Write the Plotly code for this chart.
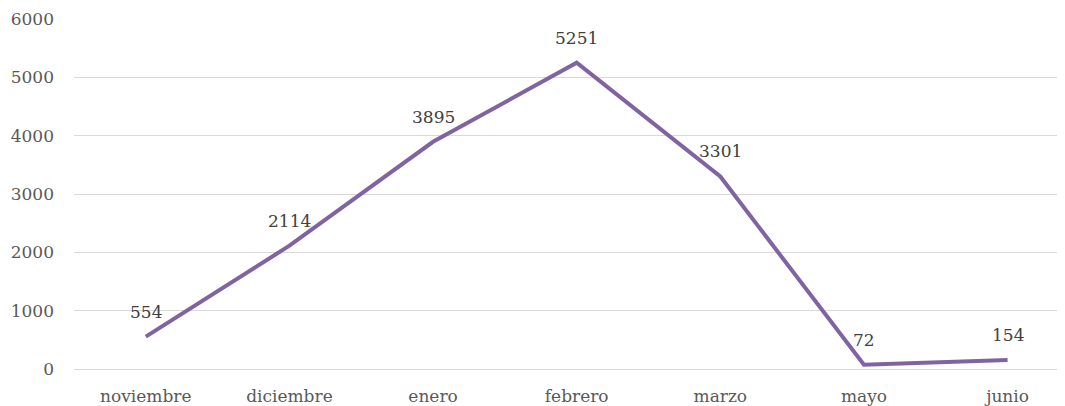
import plotly.graph_objects as go

months = ["noviembre", "diciembre", "enero", "febrero", "marzo", "mayo", "junio"]
values = [554, 2114, 3895, 5251, 3301, 72, 154]
y_ticks = [0, 1000, 2000, 3000, 4000, 5000, 6000]

serif = "DejaVu Serif, Liberation Serif, serif"

fig = go.Figure()
fig.add_trace(go.Scatter(
    x=months, y=values, mode="lines",
    line=dict(color="#8064a2", width=4),
    showlegend=False, hoverinfo="x+y",
))
for m, v in zip(months, values):
    fig.add_annotation(
        x=m, y=v, text=str(v), showarrow=False, yshift=25,
        font=dict(family=serif, size=17, color="#404040"),
    )
fig.update_layout(
    width=1057, height=398,
    margin=dict(l=66, r=0, t=11, b=28),
    paper_bgcolor="white", plot_bgcolor="white",
    font=dict(family=serif),
)
fig.update_xaxes(
    type="category", range=[-0.5, 6.4], showgrid=False, zeroline=False,
    showline=False, ticks="",
    tickfont=dict(family=serif, size=17, color="#595959"),
    ticklabelstandoff=15,
)
fig.update_yaxes(
    range=[0, 6000], tickvals=y_ticks, ticktext=[str(t) for t in y_ticks],
    showgrid=True, gridcolor="#d9d9d9", gridwidth=1,
    zeroline=True, zerolinecolor="#d9d9d9", zerolinewidth=1,
    showline=False, ticks="",
    tickfont=dict(family=serif, size=17, color="#595959"),
    ticklabelstandoff=19,
)
fig.write_html("out.html")
